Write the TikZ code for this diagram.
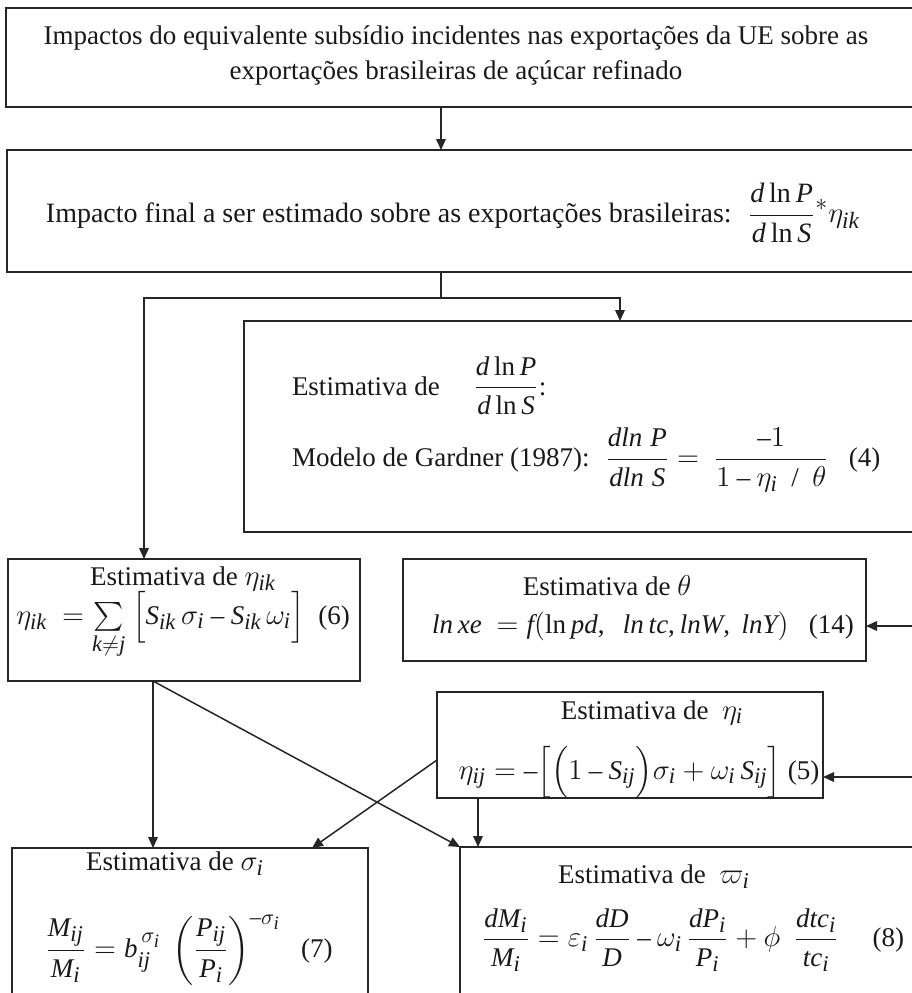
\documentclass[tikz,border=0pt]{standalone}
\usepackage{amsmath}
\usepackage{fontspec}
\setmainfont{Liberation Serif}
\usepackage[italic]{mathastext}
\usetikzlibrary{arrows.meta}
\newcommand\mybox[5]{\node[box, minimum width={(#4-#2)*0.5pt}, minimum height={(#5-#3)*0.5pt}] (#1) at (#2,#3) {};}
\begin{document}
\begin{tikzpicture}[x=0.5pt,y=-0.5pt,
  box/.style={draw=black!85, line width=0.75pt, rectangle, inner sep=0pt, outer sep=0pt, anchor=north west},
  txt/.style={inner sep=0pt, outer sep=0pt, text=black!90, font=\fontsize{13.5}{17.5}\selectfont},
  conn/.style={draw=black!85, line width=0.75pt},
  arr/.style={conn, -{Triangle[length=5.5pt,width=4.8pt]}}]
\clip (0,0) rectangle (912,993);
\fill[white] (0,0) rectangle (912,993);
% boxes
\mybox{b1}{6}{8}{930}{107}
\mybox{b2}{7}{150}{930}{272}
\mybox{b3}{244}{321}{930}{532}
\mybox{b4}{8}{559}{360}{681}
\mybox{b5}{403}{559}{866}{661}
\mybox{b6}{437}{692}{823}{798}
\mybox{b7}{12}{848}{368}{1010}
\mybox{b8}{460}{847}{930}{1010}
% texts
\node[txt, align=center] (t1) at (456,55) {Impactos do equivalente subsídio incidentes nas exportações da UE sobre as\\exportações brasileiras de açúcar refinado};
\node[txt, font=\fontsize{14}{17}\selectfont] (t2) at (453,213) {Impacto final a ser estimado sobre as exportações brasileiras: \ $\displaystyle\frac{d\ln P}{d\ln S}{}^{*}\eta_{ik}$};
\node[txt, anchor=west] (t3a) at (292,386) {Estimativa de \quad $\displaystyle\frac{d\ln P}{d\ln S}$:};
\node[txt, anchor=west] (t3b) at (292,460) {Modelo de Gardner (1987): \ $\displaystyle\frac{dln\;P}{dln\;S}=\ \frac{-1}{1-\eta_i\ \ /\ \ \theta}$ \ \ (4)};
\node[txt, anchor=base] (t4a) at (183,585) {Estimativa de $\eta_{ik}$};
\node[txt, anchor=base] (t4b) at (183,624) {$\eta_{ik}\ =\sum\limits_{k\neq j}\ \Bigl[S_{ik}\,\sigma_i - S_{ik}\,\omega_i\Bigr]$ \ (6)};
\node[txt, anchor=base] (t5a) at (607,595) {Estimativa de $\theta$};
\node[txt, anchor=base] (t5b) at (643,633) {$ln\,xe\ =f(\ln pd,\ \ ln\,tc, lnW,\ lnY)$ \ \ (14)};
\node[txt, anchor=base] (t6a) at (652,719) {Estimativa de \ $\eta_i$};
\node[txt, anchor=base] (t6b) at (639,779) {$\eta_{ij}=-\Bigl[\Bigl(1-S_{ij}\Bigr)\sigma_i+\omega_i\,S_{ij}\Bigr]$ (5)};
\node[txt] (t7a) at (175,864) {Estimativa de $\sigma_i$};
\node[txt] (t7b) at (189,950) {$\displaystyle\frac{M_{ij}}{M_i}=b_{ij}^{\,\sigma_i}\ \left(\frac{P_{ij}}{P_i}\right)^{-\sigma_i}$ \ \ (7)};
\node[txt] (t8a) at (654,877) {Estimativa de \ $\varpi_i$};
\node[txt] (t8b) at (693,940) {$\displaystyle\frac{dM_i}{M_i}=\varepsilon_i\,\frac{dD}{D}-\omega_i\,\frac{dP_i}{P_i}+\phi\ \ \frac{dtc_i}{tc_i}$ \quad (8)};
% helper coordinates
\coordinate (xa) at (441,0);
\coordinate (xl) at (144,0);
\coordinate (xr) at (620,0);
\coordinate (xd) at (153,0);
\coordinate (xs) at (312,0);
\coordinate (xe) at (478,0);
\coordinate (split) at (441,298);
\coordinate (y6) at (0,760);
\coordinate (r5) at (915,626);
\coordinate (r6) at (915,777);
% connectors
\draw[arr] (xa |- b1.south) -- (xa |- b2.north);
\draw[conn] (xa |- b2.south) -- (split);
\draw[arr] (split) -| (xr |- b3.north);
\draw[arr] (split) -| (xl |- b4.north);
\draw[arr] (xd |- b4.south) -- (xd |- b7.north);
\draw[arr] (xd |- b4.south) -- (b8.north west);
\draw[arr] (b6.west |- y6) -- (xs |- b7.north);
\draw[arr] (xe |- b6.south) -- (xe |- b8.north);
\draw[arr] (r5) -- (b5.east |- r5);
\draw[arr] (r6) -- (b6.east |- r6);
\end{tikzpicture}
\end{document}
